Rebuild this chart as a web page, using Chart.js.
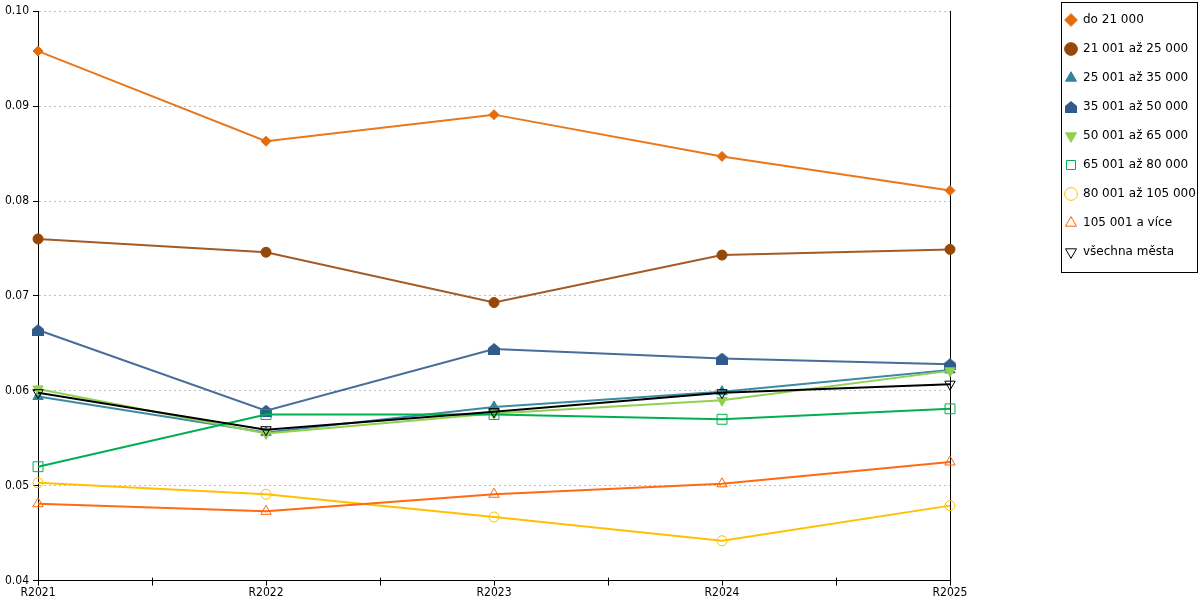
<!DOCTYPE html>
<html>
<head>
<meta charset="utf-8">
<script src="https://cdn.jsdelivr.net/npm/chart.js@4.4.0/dist/chart.umd.min.js"></script>
<style>
  html, body { margin: 0; padding: 0; background: #fff; }
  #wrap { width: 1200px; height: 600px; }
</style>
</head>
<body>
<div id="wrap"><canvas id="myChart"></canvas></div>
<script>
// roky
var years = ["R2021", "R2022", "R2023", "R2024", "R2025"];

// hodnoty podle velikosti mesta
var do21 = [0.0958, 0.0863, 0.0891, 0.0847, 0.0811];
var od21do25 = [0.0760, 0.0746, 0.0693, 0.0743, 0.0749];
var od25do35 = [0.0594, 0.0556, 0.0583, 0.0599, 0.0622];
var od35do50 = [0.0664, 0.0579, 0.0644, 0.0634, 0.0628];
var od50do65 = [0.0602, 0.0555, 0.0576, 0.0590, 0.0621];
var od65do80 = [0.0520, 0.0575, 0.0575, 0.0570, 0.0581];
var od80do105 = [0.0503, 0.0491, 0.0467, 0.0442, 0.0479];
var nad105 = [0.0481, 0.0473, 0.0491, 0.0502, 0.0525];
var vsechna = [0.0598, 0.0559, 0.0578, 0.0598, 0.0607];

var yTicks = [0.04, 0.05, 0.06, 0.07, 0.08, 0.09, 0.10];

var axisFont = { family: "'DejaVu Sans Condensed', 'DejaVu Sans'", size: 12 };
var legendFont = { family: "'DejaVu Sans'", size: 12 };

// znacka "domecek" pro 35 001 az 50 000
function housePoint(color) {
    var c = document.createElement('canvas');
    c.width = 12; c.height = 12;
    var g = c.getContext('2d');
    g.fillStyle = color;
    g.beginPath();
    g.moveTo(6, 0); g.lineTo(12, 5); g.lineTo(12, 12); g.lineTo(0, 12); g.lineTo(0, 5);
    g.closePath();
    g.fill();
    return c;
}

function serie(label, data, line, mark, style, open, radius, rot) {
    return {
        label: label,
        data: data,
        borderColor: line,
        backgroundColor: line,
        borderWidth: 2,
        tension: 0,
        pointStyle: style,
        pointRotation: rot || 0,
        pointRadius: radius,
        pointHoverRadius: radius,
        pointBackgroundColor: open ? 'rgba(255,255,255,0)' : mark,
        pointBorderColor: mark,
        pointBorderWidth: 1
    };
}

var datasets = [
    serie('do 21 000', do21, '#e8781c', '#e46c0a', 'rectRot', false, 5),
    serie('21 001 až 25 000', od21do25, '#a35a25', '#974706', 'circle', false, 5),
    serie('25 001 až 35 000', od25do35, '#3d8ba1', '#31859c', 'triangle', false, 6),
    serie('35 001 až 50 000', od35do50, '#4a6c9b', '#2f5b8d', housePoint('#2f5b8d'), false, 6),
    serie('50 001 až 65 000', od50do65, '#92d050', '#92d050', 'triangle', false, 6, 180),
    serie('65 001 až 80 000', od65do80, '#00b050', '#00b050', 'rect', true, 7),
    serie('80 001 až 105 000', od80do105, '#ffc000', '#ffc000', 'circle', true, 5),
    serie('105 001 a více', nad105, '#ff6a13', '#ff6600', 'triangle', true, 6),
    serie('všechna města', vsechna, '#000000', '#000000', 'triangle', true, 6, 180)
];
// pozdejsi rady kreslit navrch
datasets.forEach(function (d, i) { d.order = -i; });

// legenda o kousek vys
var legendShift = {
    id: 'legendShift',
    afterLayout: function (chart) {
        chart.legend.top -= 7;
        chart.legend.bottom -= 7;
    }
};

// ramecek kolem legendy
var legendBox = {
    id: 'legendBox',
    afterDraw: function (chart) {
        var boxes = chart.legend.legendHitBoxes;
        if (!boxes || !boxes.length) return;
        var first = boxes[0], last = boxes[boxes.length - 1];
        var ctx = chart.ctx;
        var l = Math.round(first.left - 4), t = Math.round(first.top - 12);
        var b = Math.round(last.top + last.height + 14);
        ctx.save();
        ctx.strokeStyle = '#000';
        ctx.lineWidth = 1;
        ctx.strokeRect(l + 0.5, t + 0.5, chart.width - 3 - l, b - t);
        ctx.restore();
    }
};

// male znacky mezi roky na ose x
var midTicks = {
    id: 'midTicks',
    afterDraw: function (chart) {
        var xs = chart.scales.x;
        var ctx = chart.ctx;
        ctx.save();
        ctx.strokeStyle = '#000';
        ctx.lineWidth = 1;
        ctx.beginPath();
        for (var i = 0; i < years.length - 1; i++) {
            var px = Math.round(xs.getPixelForValue(i + 0.5)) + 0.5;
            ctx.moveTo(px, xs.top - 3);
            ctx.lineTo(px, xs.top + 5);
        }
        ctx.stroke();
        ctx.restore();
    }
};

var ctx = document.getElementById('myChart').getContext('2d');

var myLineChart = new Chart(ctx, {
    type: 'line',
    data: {
        labels: years,
        datasets: datasets
    },
    plugins: [legendShift, legendBox, midTicks],
    options: {
        responsive: true,
        maintainAspectRatio: false,
        animation: false,
        layout: { padding: { left: 1, top: 4, right: 2, bottom: 0 } },
        plugins: {
            tooltip: { enabled: false },
            legend: {
                position: 'right',
                align: 'start',
                maxWidth: 150,
                labels: {
                    usePointStyle: true,
                    boxWidth: 12,
                    boxHeight: 9,
                    padding: 17,
                    color: '#000',
                    font: legendFont,
                    sort: function (a, b) { return a.datasetIndex - b.datasetIndex; }
                }
            }
        },
        scales: {
            x: {
                ticks: { color: '#000', font: axisFont, padding: 0, maxRotation: 0, autoSkip: false },
                grid: { drawOnChartArea: false, tickColor: '#000', tickLength: 5 },
                border: { color: '#000' }
            },
            y: {
                min: 0.04,
                max: 0.10,
                afterBuildTicks: function (s) { s.ticks = yTicks.map(function (v) { return { value: v }; }); },
                ticks: { color: '#000', font: axisFont, padding: 4,
                    callback: function (v) { return Number(v).toFixed(2); } },
                grid: { color: '#c0c0c0', tickColor: '#000', tickLength: 5, tickBorderDash: [] },
                border: { color: '#000', dash: [2, 3] }
            },
            y2: {
                position: 'right',
                ticks: { display: false },
                grid: { drawOnChartArea: false, drawTicks: false },
                border: { color: '#000' },
                afterFit: function (s) { s.width = 98; }
            }
        }
    }
});
</script>
</body>
</html>
